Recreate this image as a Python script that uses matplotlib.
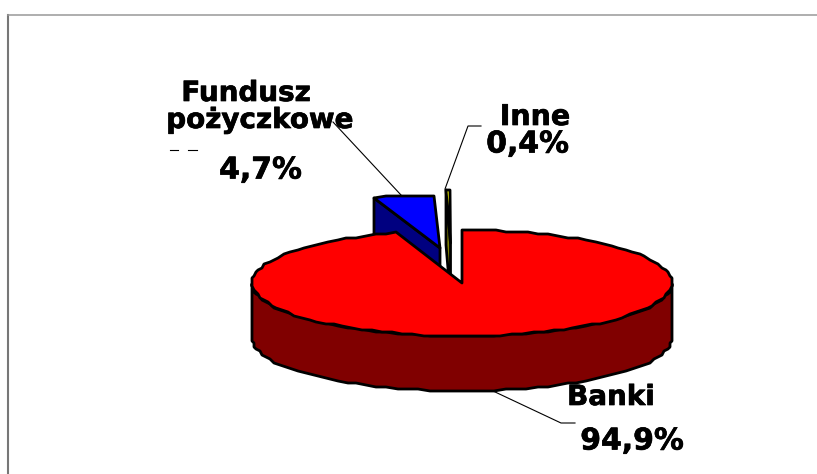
import numpy as np
import matplotlib
matplotlib.use("Agg")
import matplotlib.pyplot as plt
import matplotlib.patheffects as pe

# share of each slice, clockwise from 12 o'clock
names = ["Banki", "Fundusz pożyczkowe", "Inne"]
shares = [94.9, 4.7, 0.4]
top_colors = ["#ff0000", "#0000ff", "#ffff00"]
side_colors = ["#800000", "#000080", "#808000"]

# pie geometry, in pixels of the picture
rx, ry, depth = 210, 53, 55
centers = [(462, 283), (440, 248), (450.5, 243)]
draw_order = [2, 1, 0]

edges = np.cumsum([0] + shares) / 100 * 360


def rim(cx, cy, a0, a1, step=3):
    n = max(int(abs(a1 - a0) / step), 1)
    t = np.radians(np.linspace(a0, a1, n + 1))
    # the source drew the rim on a coarse grid, hence the slightly jagged outline
    x = cx + rx * np.sin(t)
    y = cy - ry * np.cos(t)
    return np.round(x / 2) * 2, np.round(y / 2) * 2


fig = plt.figure(figsize=(8.17, 4.74), dpi=100)
ax = fig.add_axes([0, 0, 1, 1])
ax.set_xlim(0, 817)
ax.set_ylim(474, 0)
ax.axis("off")

# frame left over from the slide
ax.plot([8.5, 8.5], [474, 14.5], color="#777777", lw=1.5)
ax.plot([8, 817], [14.5, 14.5], color="#999999", lw=1.1)

for i in draw_order:
    cx, cy = centers[i]
    a0, a1 = edges[i], edges[i + 1]
    x, y = rim(cx, cy, a0, a1)
    # outer wall, only the part facing the viewer
    lo, hi = max(a0, 90), min(a1, 270)
    if lo < hi:
        wx, wy = rim(cx, cy, lo, hi)
        ax.fill(np.r_[wx, wx[::-1]], np.r_[wy, wy[::-1] + depth],
                fc=side_colors[i], ec="black", lw=2, joinstyle="round")
    # cut face on the closing edge of the small slices
    if i > 0:
        ax.fill([x[0], cx, cx, x[0]], [y[0], cy, cy + depth, y[0] + depth],
                fc=side_colors[i], ec="black", lw=2, joinstyle="round")
    ax.fill(np.r_[cx, x], np.r_[cy, y], fc=top_colors[i], ec="black",
            lw=2, joinstyle="round")

# leader lines
ax.plot([333, 401], [122, 195], color="black", lw=0.8)
ax.plot([481, 468, 445], [126, 126, 189], color="black", lw=0.8)
ax.plot([493, 561, 575], [391, 423, 423], color="black", lw=0.8)

# clipped bit of the third label line
ax.plot([170, 178], [150, 150], color="black", lw=0.8)
ax.plot([188, 197], [150, 150], color="black", lw=0.8)

heavy = [pe.withStroke(linewidth=0.5, foreground="black")]
font = dict(family="DejaVu Sans", weight="bold", size=20, color="black",
            ha="center", va="center", path_effects=heavy)
nums = dict(font, size=21.5)
ax.text(246, 93, "Fundusz", **font)
ax.text(260, 120, "pożyczkowe", **font)
ax.text(260.5, 170, f"{shares[1]:.1f}%".replace(".", ","), **nums)
ax.text(535, 117, names[2], **dict(font, size=20.5))
ax.text(527.5, 144, f"{shares[2]:.1f}%".replace(".", ","), **nums)
ax.text(611, 397, names[0], **font)
ax.text(632, 441, f"{shares[0]:.1f}%".replace(".", ","), **nums)

fig.savefig("out.png", dpi=100)
